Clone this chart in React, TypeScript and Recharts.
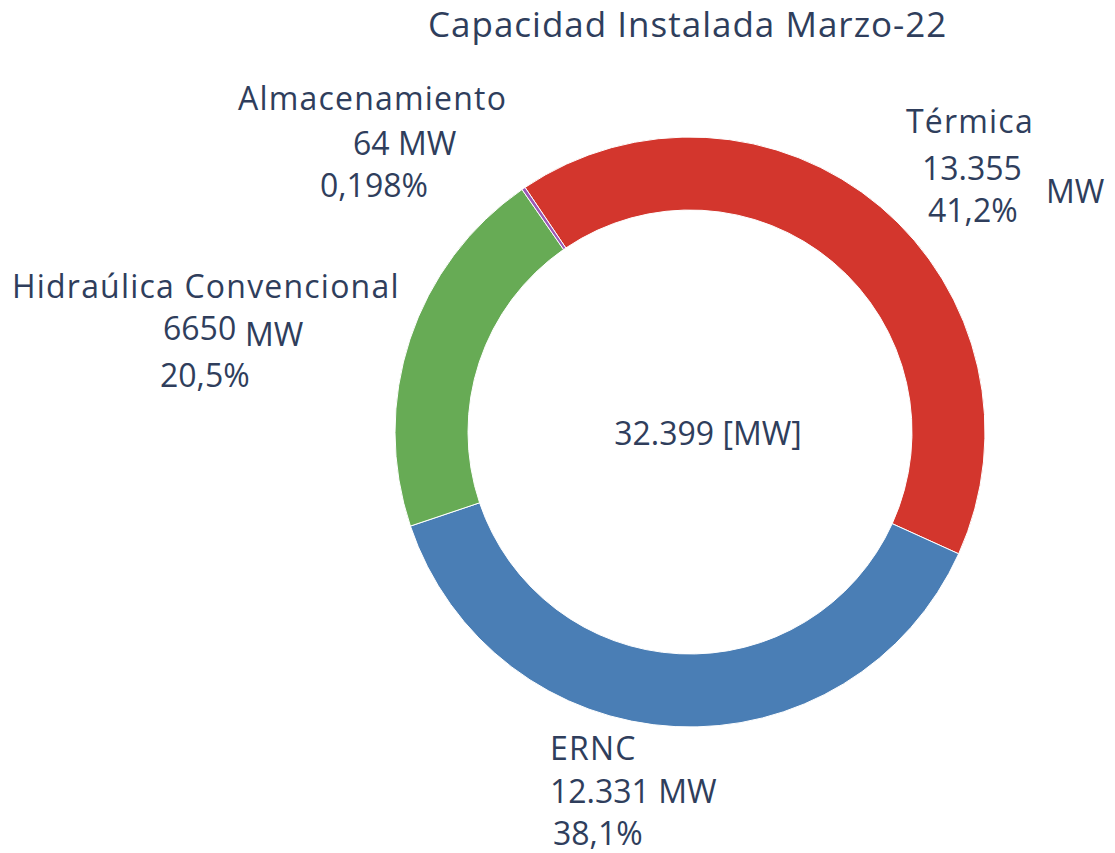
import { PieChart, Pie, Cell } from "recharts";

// datos de capacidad instalada (MW)
const categories = ["Térmica", "ERNC", "Hidraúlica Convencional", "Almacenamiento"];
const values = [13355, 12331, 6650, 64];
const valueLabels = ["13.355", "12.331 MW", "6650", "64 MW"];
const pctLabels = ["41,2%", "38,1%", "20,5%", "0,198%"];
const colors = ["#D3362D", "#4A7EB5", "#67AB55", "#9B59B6"];
const totalLabel = "32.399 [MW]";
const title = "Capacidad Instalada Marzo-22";

const data = categories.map((name, i) => ({ name, value: values[i] }));

const TEXT = "#2F3E5C";
const FONT = "'Open Sans', sans-serif";
const FS = 32;

// posiciones de las etiquetas relativas al centro del anillo
const labelLayout: { dx: number; dy: number; kind: string }[][] = [
  [
    { dx: 216, dy: -299, kind: "name" },
    { dx: 232, dy: -252, kind: "value" },
    { dx: 238, dy: -210, kind: "pct" },
    { dx: 356, dy: -229, kind: "unit" },
  ],
  [
    { dx: -140, dy: 328, kind: "name" },
    { dx: -140, dy: 371, kind: "value" },
    { dx: -137, dy: 413, kind: "pct" },
  ],
  [
    { dx: -678, dy: -134, kind: "name" },
    { dx: -527, dy: -92, kind: "value" },
    { dx: -445, dy: -86, kind: "unit" },
    { dx: -530, dy: -45, kind: "pct" },
  ],
  [
    { dx: -452, dy: -322, kind: "name" },
    { dx: -337, dy: -277, kind: "value" },
    { dx: -370, dy: -235, kind: "pct" },
  ],
];

function renderLabel(props: any) {
  const { cx, cy, index } = props;
  const parts = labelLayout[index] || [];
  return (
    <g key={`lbl-${index}`}>
      {parts.map((p, j) => {
        const txt =
          p.kind === "name"
            ? categories[index]
            : p.kind === "value"
            ? valueLabels[index]
            : p.kind === "pct"
            ? pctLabels[index]
            : "MW";
        return (
          <text
            key={j}
            x={cx + p.dx}
            y={cy + p.dy}
            fill={TEXT}
            fontSize={FS}
            fontFamily={FONT}
            letterSpacing={p.kind === "name" ? 1.2 : 0}
            textAnchor="start"
          >
            {txt}
          </text>
        );
      })}
      {/* total al centro del anillo */}
      {index === 0 && (
        <text
          x={cx + 18}
          y={cy + 13}
          fill={TEXT}
          fontSize={FS}
          fontFamily={FONT}
          textAnchor="middle"
        >
          {totalLabel}
        </text>
      )}
    </g>
  );
}

export default function App() {
  return (
    <div style={{ position: "absolute", left: 0, top: 0, width: 1115, height: 853, background: "#fff" }}>
      <div
        style={{
          position: "absolute",
          left: 428,
          top: 0,
          fontFamily: FONT,
          fontSize: 35,
          letterSpacing: 1,
          color: TEXT,
          whiteSpace: "nowrap",
        }}
      >
        {title}
      </div>
      <PieChart width={1115} height={853} margin={{ top: 0, right: 0, bottom: 0, left: 0 }}>
        <Pie
          data={data}
          dataKey="value"
          nameKey="name"
          cx={690}
          cy={432}
          innerRadius={222}
          outerRadius={295}
          startAngle={124}
          endAngle={-236}
          stroke="#fff"
          strokeWidth={1}
          label={renderLabel}
          labelLine={false}
          isAnimationActive={false}
        >
          {data.map((d, i) => (
            <Cell key={d.name} fill={colors[i]} />
          ))}
        </Pie>
      </PieChart>
    </div>
  );
}
